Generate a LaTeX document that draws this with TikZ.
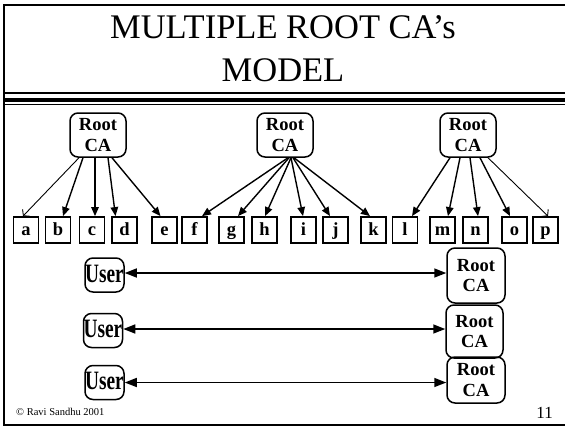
\documentclass[tikz,border=0pt]{standalone}
\usepackage{fontspec}
\usepackage{graphicx}
\setmainfont{Liberation Serif}
\usetikzlibrary{arrows.meta,calc}

\tikzset{
  frameline/.style={line width=1.8pt},
  titletext/.style={font=\fontsize{34.5}{36}\selectfont, inner sep=0pt},
  cabox/.style={draw, line width=1.5pt, rounded corners=8pt, align=center, inner sep=0pt,
    font=\bfseries\fontsize{18.5}{20.5}\selectfont},
  leafbox/.style={draw, line width=1.8pt, minimum width=25, minimum height=26, inner sep=0pt,
    font=\bfseries\fontsize{18.5}{20}\selectfont, text height=11pt, text depth=0pt},
  userbox/.style={draw, line width=1.5pt, rounded corners=8pt, inner sep=0pt,
    minimum width=39, minimum height=34, font=\bfseries\fontsize{26.5}{28}\selectfont,
    text height=14.5pt, text depth=-9.5pt},
  arr/.style={line width=1.4pt, -{Triangle[length=9pt,width=7.5pt]}},
  thinarr/.style={line width=0.9pt, -{Straight Barb[length=4pt,width=10pt]}},
  dbl/.style={line width=1.5pt, {Triangle[length=12pt,width=9pt]}-{Triangle[length=12pt,width=9pt]}}
}

\begin{document}
\begin{tikzpicture}[x=1pt,y=-1pt]
\useasboundingbox (0,0) rectangle (565,429);

% slide frame, open on the right
\draw[frameline] (567,4.8) -- (3.7,4.8) -- (3.7,425) -- (567,425);

% title rule
\draw[line width=1.4pt] (3.7,93) -- (567,93);
\draw[line width=3.4pt] (3.7,100) -- (567,100);
\draw[line width=1.4pt] (3.7,104.7) -- (567,104.7);

% title
\node[titletext, anchor=base] (t1) at (283,38) {MULTIPLE ROOT CA’s};
\node[titletext, anchor=base] (t2) at (283,81) {MODEL};

% three root CAs
\node[cabox, minimum width=56, minimum height=44] (r1) at (98,135) {Root\\CA};
\node[cabox, minimum width=56, minimum height=44] (r2) at (285,135) {Root\\CA};
\node[cabox, minimum width=56, minimum height=44] (r3) at (468,135) {Root\\CA};

% leaf entities
\foreach \n/\x in {a/26, b/58, c/92, d/124.5, e/164.5, f/194.5, g/231.5, h/264.5,
                   i/303.5, j/335.5, k/373.5, l/405, m/442.5, n/475.5, o/514.5, p/545.5}
  \node[leafbox] (\n) at (\x,230) {\n};

% certification arrows
\draw[thinarr] ([xshift=-19]r1.south) -- ([xshift=-3]a.north);
\foreach \n/\s/\e in {b/-15/5, c/-3/3, d/10/-9, e/14/-4}
  \draw[arr] ([xshift=\s]r1.south) -- ([xshift=\e]\n.north);
\foreach \n/\s/\e in {f/3/7.5, g/4/6.5, h/6/0.5, i/6/-0.5, j/8/-5.5, k/9/-3.5}
  \draw[arr] ([xshift=\s]r2.south) -- ([xshift=\e]\n.north);
\foreach \n/\s/\e in {l/-18/7, m/-8/5.5, n/2/2.5, o/12/-4.5}
  \draw[arr] ([xshift=\s]r3.south) -- ([xshift=\e]\n.north);
\draw[thinarr] ([xshift=20]r3.south) -- ([xshift=2.5]p.north);

% users and their root CAs
\node[userbox] (u1) at (104.5,275) {\scalebox{0.73}[1]{User}};
\node[userbox] (u2) at (103,330.5) {\scalebox{0.73}[1]{User}};
\node[userbox] (u3) at (104.5,382.5) {\scalebox{0.73}[1]{User}};

\node[cabox, minimum width=58, minimum height=55] (rb1) at (476,275.5) {Root\\CA};
\node[cabox, minimum width=57, minimum height=53] (rb2) at (474.5,331.5) {Root\\CA};
\node[cabox, minimum width=58, minimum height=46] (rb3) at (476,380) {Root\\CA};

\draw[dbl] ([yshift=2pt]u1.east) -- ([yshift=2pt]u1.east -| rb1.west);
\draw[dbl] ([yshift=1.5pt]u2.east) -- ([yshift=1.5pt]u2.east -| rb2.west);
\draw[dbl] (u3.east) -- (u3.east -| rb3.west);

% footer
\node[anchor=base west, inner sep=0pt, font=\fontsize{10.5}{11}\selectfont] (cr) at (16,415) {© Ravi Sandhu 2001};
\node[anchor=base east, inner sep=0pt, font=\fontsize{17}{18}\selectfont] (pg) at (553,418) {11};
\end{tikzpicture}
\end{document}
